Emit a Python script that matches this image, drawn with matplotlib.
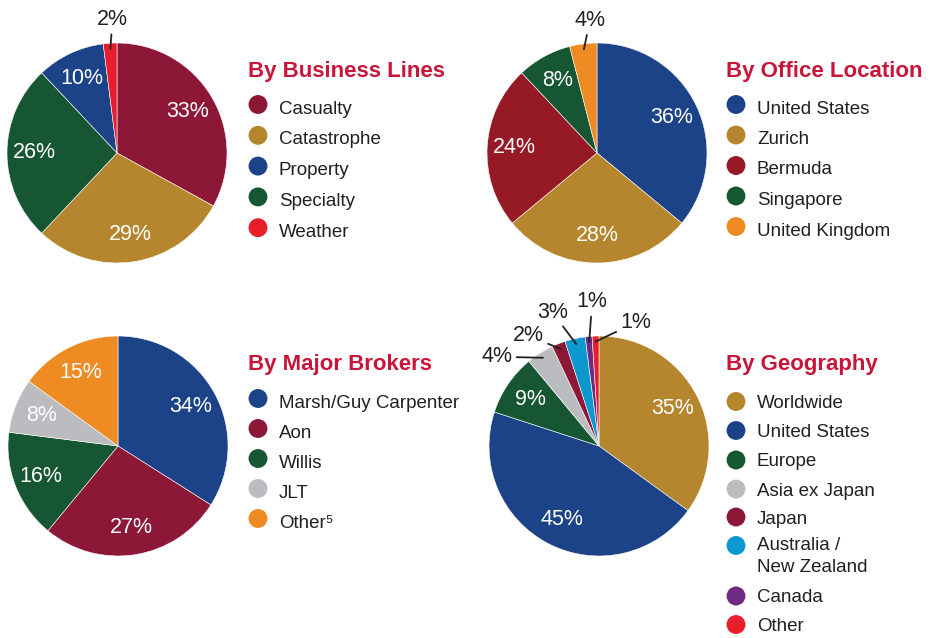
import numpy as np
import matplotlib.pyplot as plt

W, H = 939, 638

# colours
CRIMSON = '#8C1736'
GOLD = '#B5862D'
NAVY = '#1C4387'
GREEN = '#175632'
RED = '#E81E2D'
ORANGE = '#EE8B22'
GREY = '#BBBCBF'
SKY = '#0A98CE'
PURPLE = '#6E2B84'
BERMUDA = '#951A26'
TITLE_C = '#C8153A'
TEXT_C = '#231F20'

# data
business_labels = ['Casualty', 'Catastrophe', 'Specialty', 'Property', 'Weather']
business_values = [33, 29, 26, 10, 2]
business_colors = [CRIMSON, GOLD, GREEN, NAVY, RED]
business_legend = ['Casualty', 'Catastrophe', 'Property', 'Specialty', 'Weather']

office_labels = ['United States', 'Zurich', 'Bermuda', 'Singapore', 'United Kingdom']
office_values = [36, 28, 24, 8, 4]
office_colors = [NAVY, GOLD, BERMUDA, GREEN, ORANGE]

broker_labels = ['Marsh/Guy Carpenter', 'Aon', 'Willis', 'JLT', 'Other\u2075']
broker_values = [34, 27, 16, 8, 15]
broker_colors = [NAVY, CRIMSON, GREEN, GREY, ORANGE]

geo_labels = ['Worldwide', 'United States', 'Europe', 'Asia ex Japan', 'Japan',
              'Australia /\nNew Zealand', 'Canada', 'Other']
geo_values = [35, 45, 9, 4, 2, 3, 1, 1]
geo_colors = [GOLD, NAVY, GREEN, GREY, CRIMSON, SKY, PURPLE, RED]

FONT = ['Liberation Sans', 'DejaVu Sans']
plt.rcParams['font.family'] = FONT

fig = plt.figure(figsize=(W / 100, H / 100), dpi=100)
ax = fig.add_axes([0, 0, 1, 1])


def draw_panel(cx, cy, values, colors, label_offsets):
    # cx, cy in screen pixels (y down)
    r = 110
    wedges, texts, autotexts = ax.pie(
        values, colors=colors, startangle=90, counterclock=False,
        center=(cx, H - cy), radius=r,
        autopct=lambda p: f'{p:.0f}%' if p >= 5 else '',
        pctdistance=0.75,
        textprops=dict(color='white', fontsize=15.5),
        wedgeprops=dict(edgecolor='white', linewidth=0.4))
    k = 0
    for w, v in zip(wedges, values):
        if v >= 5:
            continue
        mid = np.deg2rad((w.theta1 + w.theta2) / 2)
        ax_ = cx + 0.95 * r * np.cos(mid)
        ay_ = (H - cy) + 0.95 * r * np.sin(mid)
        dx, dy = label_offsets[k]
        k += 1
        ax.annotate(f'{v}%', xy=(ax_, ay_), xytext=(ax_ + dx, ay_ - dy),
                    ha='center', va='center', fontsize=15.5, color=TEXT_C,
                    arrowprops=dict(arrowstyle='-', color=TEXT_C, lw=1.3,
                                    shrinkA=1, shrinkB=0))


def draw_legend(x, title_y, title, names, colors, dot_ys, text_dy):
    ax.text(x - 10, H - title_y, title, fontsize=16, fontweight='bold',
            color=TITLE_C, ha='left', va='baseline')
    for name, c, y in zip(names, colors, dot_ys):
        ax.scatter([x], [H - y], s=185, color=c, edgecolors='none')
        if '\n' in name:
            ax.text(x + 21, H - y + 8 - text_dy, name, fontsize=13.5,
                    color=TEXT_C, ha='left', va='top', linespacing=1.38)
        else:
            ax.text(x + 21, H - y - text_dy, name, fontsize=13.5,
                    color=TEXT_C, ha='left', va='center_baseline')


draw_panel(117, 153, business_values, business_colors, [(2, -29)])
draw_panel(597, 153, office_values, office_colors, [(6, -29)])
draw_panel(118, 446, broker_values, broker_colors, [])
draw_panel(599, 446, geo_values, geo_colors,
           [(-46, -1), (-32, -13), (-24, -32), (3, -40), (40, -19)])

color_of = dict(zip(business_labels, business_colors))
draw_legend(258, 77, 'By Business Lines', business_legend,
            [color_of[n] for n in business_legend],
            [104.5 + 30.8 * i for i in range(5)], 2.5)
draw_legend(736, 77, 'By Office Location', office_labels, office_colors,
            [104.5 + 30.5 * i for i in range(5)], 2.5)
draw_legend(258, 370, 'By Major Brokers', broker_labels, broker_colors,
            [398.5 + 30 * i for i in range(5)], 2.5)
geo_ys = [401.5, 430.5, 460, 489, 517, 545.5, 596, 624.5]
draw_legend(736, 370, 'By Geography', geo_labels, geo_colors, geo_ys, 0)

ax.set_xlim(0, W)
ax.set_ylim(0, H)
ax.set_aspect('equal')
ax.axis('off')

fig.savefig('out.png', dpi=100)
